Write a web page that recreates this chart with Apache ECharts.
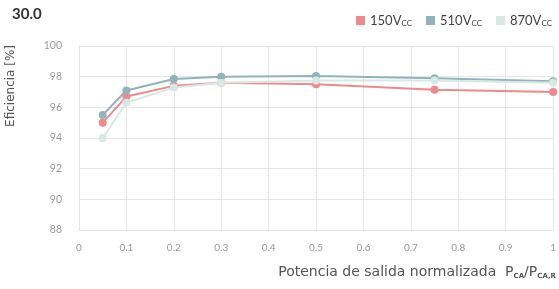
<!DOCTYPE html>
<html><head><meta charset="utf-8">
<script src="https://cdn.jsdelivr.net/npm/echarts@6/dist/echarts.min.js"></script>
<style>html,body{margin:0;padding:0;background:#fff}#c{width:559px;height:289px}</style>
</head><body><div id="c"></div>
<script>
const xValues = [0.05, 0.1, 0.2, 0.3, 0.5, 0.75, 1];
const v150 = [95.0, 96.7, 97.4, 97.6, 97.5, 97.15, 97.0];
const v510 = [95.5, 97.1, 97.85, 98.0, 98.05, 97.9, 97.7];
const v870 = [94.0, 96.3, 97.3, 97.6, 97.75, 97.75, 97.6];
const seriesNames = ['150', '510', '870'];
const colors = ['#f0898c', '#8fb4bb', '#d6e9e3'];
const titleText = '30.0';
const yName = 'Eficiencia [%]';

const font = 'Lato, "Noto Sans", sans-serif';
const wide = '"DejaVu Sans", sans-serif';
const chart = echarts.init(document.getElementById('c'), null, {renderer: 'canvas'});
const pair = (vals) => xValues.map((x, i) => [x, vals[i]]);
const data = [v150, v510, v870];

chart.setOption({
  animation: false,
  textStyle: {fontFamily: font},
  title: {text: titleText, left: 7, top: 2, textStyle: {fontSize: 15, fontWeight: 'bold', color: '#333', fontFamily: font}},
  legend: {
    right: 2, top: 9, itemWidth: 9, itemHeight: 9, itemGap: 14, icon: 'rect',
    data: seriesNames,
    formatter: n => '{a|' + n + 'V}{b|CC}',
    textStyle: {
      color: '#444',
      rich: {a: {fontSize: 13, color: '#444', fontFamily: font}, b: {fontSize: 8, color: '#444', verticalAlign: 'bottom', padding: [6, 0, 0, 0], fontFamily: font}}
    }
  },
  grid: {left: 79, right: 3, top: 46, bottom: 59},
  xAxis: {
    type: 'value', min: 0, max: 1, interval: 0.1,
    axisLine: {show: true, lineStyle: {color: '#e4e4e4'}},
    axisTick: {show: false},
    splitLine: {show: true, lineStyle: {color: '#e6e6e6'}},
    axisLabel: {color: '#9a9a9a', fontSize: 10, margin: 13, formatter: v => String(Math.round(v * 10) / 10)}
  },
  yAxis: {
    type: 'value', min: 88, max: 100, interval: 2,
    axisLine: {show: true, lineStyle: {color: '#e4e4e4'}},
    axisTick: {show: false},
    splitLine: {show: true, lineStyle: {color: '#e6e6e6'}},
    axisLabel: {color: '#9a9a9a', fontSize: 10.5, margin: 17}
  },
  graphic: [
    {type: 'text', left: 5, top: 45, rotation: Math.PI / 2,
      style: {text: yName, fill: '#555', fontSize: 12, fontFamily: wide}},
    {type: 'text', right: 3, top: 265,
      style: {
        text: '{a|Potencia de salida normalizada  P}{s|CA}{a|/P}{s|CA,R}',
        rich: {a: {fontSize: 14, fill: '#555', fontFamily: wide}, s: {fontSize: 7, fontWeight: 'bold', fill: '#555', padding: [8, 0, 0, 0], fontFamily: wide}}
      }}
  ],
  series: seriesNames.map((n, i) => ({
    name: n, type: 'line', data: pair(data[i]),
    symbol: 'circle', symbolSize: 8, lineStyle: {width: 2, color: colors[i]},
    itemStyle: {color: colors[i]}, color: colors[i]
  }))
});
</script></body></html>
